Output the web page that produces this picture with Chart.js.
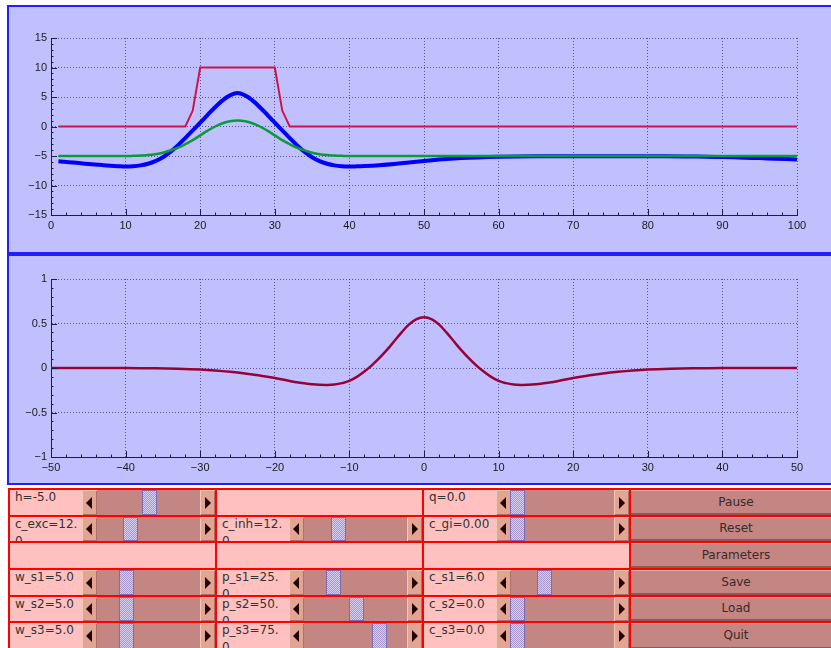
<!DOCTYPE html>
<html>
<head>
<meta charset="utf-8">
<script src="https://cdn.jsdelivr.net/npm/chart.js@4.4.1/dist/chart.umd.min.js"></script>
<style>
body{margin:0;width:831px;height:648px;overflow:hidden;position:relative;background:#fff;font-family:"DejaVu Sans",sans-serif}
.panel{position:absolute;left:7px;width:830px;background:#c0c0ff;border:2px solid #1f1fff;box-sizing:border-box}
#p1{top:5px;height:249px}
#p2{top:254px;height:231px}
canvas{position:absolute;left:0;z-index:2}
#c1{top:0}
#c2{top:253px}
#ctl{position:absolute;left:8px;top:488px;width:830px;height:162px;background:#ff0000}
.cell{position:absolute;background:#ffc0c0;overflow:hidden}
.lbl{position:absolute;left:5px;top:-1px;font-size:12px;line-height:17px;color:#333;white-space:nowrap}
.sl{position:absolute;top:0;bottom:0;width:133px;background:#c48682}
.arr{position:absolute;top:0;bottom:0;width:15px;background:#e2a493;box-shadow:inset 1px 1px 0 #f4c8b8,inset -1px -1px 0 #b07068}
.arr.l{left:0}
.arr.r{right:0}
.arr::after{content:"";position:absolute;top:50%;margin-top:-6px;border-top:6px solid transparent;border-bottom:6px solid transparent}
.arr.l::after{left:4px;border-right:6px solid #220000}
.arr.r::after{left:5px;border-left:6px solid #220000}
.th{position:absolute;top:0;bottom:0;width:13px;border:1px solid #7a6cb4;background:repeating-conic-gradient(#a898cc 0 25%,#d6cceb 0 50%) 0 0/2px 2px}
.btn{position:absolute;background:#c48682;color:#3a2a2a;font-size:12px;text-align:center;box-shadow:inset 0 1px 0 #e0b0a8,inset 0 -2px 0 #8a5a58}
</style>
</head>
<body>
<div class="panel" id="p1"></div>
<div class="panel" id="p2"></div>
<canvas id="c1" width="831" height="253"></canvas>
<canvas id="c2" width="831" height="232"></canvas>
<div id="ctl"></div>
<script>
// field u (blue), inhibitory field v (green), stimulus s (red)
const uX = [1,3,5,7,9,10,11,12,13,14,15,16,17,18,19,20,21,22,23,24,25,26,27,28,29,30,31,32,33,34,35,36,37,38,39,40,41,42,44,46,48,50,52,55,58,60,65,70,75,80,85,88,90,93,95,97,100];
const uVal = [-5.9,-6.1,-6.35,-6.55,-6.72,
  -6.78,-6.73,-6.59,-6.31,-5.86,-5.21,-4.31,-3.21,-1.96,-0.66,
  0.64,1.97,3.27,4.42,5.27,5.67,5.27,4.42,3.27,1.97,
  0.64,-0.66,-1.96,-3.21,-4.31,-5.21,-5.86,-6.31,-6.59,-6.73,
  -6.78,-6.75,-6.7,
  -6.55,-6.35,-6.1,-5.85,-5.6,-5.35,-5.2,-5.12,
  -5.06,-5.04,-5.04,-5.05,-5.08,-5.13,-5.18,-5.28,-5.36,-5.45,-5.6];

const vX = [1,10,11,12,13,14,15,16,17,18,19,20,21,22,23,24,25,26,27,28,29,30,31,32,33,34,35,36,37,38,39,40,100];
const vVal = [-5,
  -5,-4.97,-4.92,-4.85,-4.7,-4.45,-4.05,-3.6,-3.0,-2.3,
  -1.5,-0.7,0.0,0.55,0.9,1.0,0.9,0.55,0.0,-0.7,
  -1.5,-2.3,-3.0,-3.6,-4.05,-4.45,-4.7,-4.85,-4.92,-4.97,
  -5,-5];

const sX = [1,18,19,20,30,31,32,100];
const sVal = [0,0,2.7,10,10,2.7,0,0];

// interaction kernel
const kX = [-50,-45,-40,-36,-33,-30,-28,-26,-24,-22,-20,-18,-17,-16,-15,-14,-13,-12,-11,-10,-9,-8,-7,-6,-5,-4,-3,-2,-1,0,
  1,2,3,4,5,6,7,8,9,10,11,12,13,14,15,16,17,18,20,22,24,26,28,30,33,36,40,45,50];
const kVal = [0,0,-0.001,-0.003,-0.008,-0.017,-0.028,-0.043,-0.062,-0.085,-0.112,
  -0.147,-0.16,-0.172,-0.182,-0.188,-0.19,-0.185,-0.17,-0.145,-0.10,-0.04,0.03,0.11,0.20,0.30,0.40,0.49,0.55,0.57,
  0.55,0.49,0.40,0.30,0.20,0.11,0.03,-0.04,-0.10,-0.145,-0.17,-0.185,-0.19,-0.188,-0.182,-0.172,-0.16,-0.147,
  -0.112,-0.085,-0.062,-0.043,-0.028,-0.017,-0.008,-0.003,-0.001,0,0];

const fieldXTicks = [0,10,20,30,40,50,60,70,80,90,100];
const fieldYTicks = [-15,-10,-5,0,5,10,15];
const kernelXTicks = [-50,-40,-30,-20,-10,0,10,20,30,40,50];
const kernelYTicks = [-1,-0.5,0,0.5,1];

const pts = (xs, ys) => xs.map((x, i) => ({x: x, y: ys[i]}));
const minus = v => String(v).replace('-', '\u2212');

// matlab style ticks pointing into the axes, plus minor ticks
const insideTicks = {
  id: 'insideTicks',
  afterDatasetsDraw(chart, args, opts) {
    const {ctx, chartArea: a, scales: {x, y}} = chart;
    ctx.save();
    ctx.strokeStyle = '#1e1e3c';
    ctx.lineWidth = 1;
    ctx.beginPath();
    x.ticks.forEach(t => {
      const px = Math.round(x.getPixelForValue(t.value)) + 0.5;
      ctx.moveTo(px, a.bottom); ctx.lineTo(px, a.bottom - 6);
    });
    y.ticks.forEach(t => {
      const py = Math.round(y.getPixelForValue(t.value)) + 0.5;
      ctx.moveTo(a.left, py); ctx.lineTo(a.left + 6, py);
    });
    for (let v = x.min; v <= x.max + 1e-9; v += opts.xMinor) {
      const px = Math.round(x.getPixelForValue(v)) + 0.5;
      ctx.moveTo(px, a.bottom); ctx.lineTo(px, a.bottom - 2.5);
    }
    for (let v = y.min; v <= y.max + 1e-9; v += opts.yMinor) {
      const py = Math.round(y.getPixelForValue(v)) + 0.5;
      ctx.moveTo(a.left, py); ctx.lineTo(a.left + 2.5, py);
    }
    ctx.stroke();
    ctx.restore();
  }
};

function makeChart(id, datasets, xr, yr, xTicks, yTicks, padTop, xHeight, minor) {
  const tickFont = {family: '"Liberation Sans", Arial, sans-serif', size: 11};
  const grid = {color: 'rgba(45,45,95,0.7)', lineWidth: 1, drawTicks: false};
  const border = {display: true, color: '#1e1e3c', width: 1, dash: [1, 2]};
  return new Chart(document.getElementById(id), {
    type: 'line',
    data: {datasets: datasets},
    plugins: [insideTicks],
    options: {
      responsive: false,
      animation: false,
      layout: {padding: {left: 0, right: 34, top: padTop, bottom: 0}},
      elements: {point: {radius: 0}, line: {tension: 0.4}},
      scales: {
        x: {
          type: 'linear', min: xr[0], max: xr[1],
          afterBuildTicks: s => { s.ticks = xTicks.map(v => ({value: v})); },
          afterFit: s => { s.height = xHeight; },
          grid: grid, border: border,
          ticks: {padding: 4, color: '#1a1a1a', font: tickFont, maxRotation: 0, autoSkip: false, callback: minus}
        },
        y: {
          min: yr[0], max: yr[1],
          afterBuildTicks: s => { s.ticks = yTicks.map(v => ({value: v})); },
          afterFit: s => { s.width = 51; },
          grid: grid, border: border,
          ticks: {padding: 4, color: '#1a1a1a', font: tickFont, autoSkip: false, callback: minus}
        }
      },
      plugins: {
        legend: {display: false},
        tooltip: {enabled: false},
        insideTicks: minor
      }
    }
  });
}

makeChart('c1', [
  {data: pts(sX, sVal), borderColor: '#d0124a', borderWidth: 2, tension: 0},
  {data: pts(vX, vVal), borderColor: '#0a9a3c', borderWidth: 2.5},
  {data: pts(uX, uVal), borderColor: '#0000ff', borderWidth: 4}
], [0, 100], [-15, 15], fieldXTicks, fieldYTicks, 38, 38, {xMinor: 2, yMinor: 1});

makeChart('c2', [
  {data: pts(kX, kVal), borderColor: '#9a0038', borderWidth: 2.5}
], [-50, 50], [-1, 1], kernelXTicks, kernelYTicks, 26, 28, {xMinor: 2, yMinor: 0.1});

// control panel
const ctl = document.getElementById('ctl');
const rowTop = [2, 29, 55, 82, 109, 135];
const rowH = [25, 24, 25, 25, 24, 26];
const colLeft = [2, 209, 416];
const widgets = [
  [0, 0, 'h=-5.0', 60], [0, 1, null], [0, 2, 'q=0.0', 14],
  [1, 0, 'c_exc=12.<br>0', 41], [1, 1, 'c_inh=12.<br>0', 42], [1, 2, 'c_gi=0.00', 14],
  [2, 0, null], [2, 1, null], [2, 2, null],
  [3, 0, 'w_s1=5.0', 37], [3, 1, 'p_s1=25.<br>0', 37], [3, 2, 'c_s1=6.0', 41],
  [4, 0, 'w_s2=5.0', 37], [4, 1, 'p_s2=50.<br>0', 60], [4, 2, 'c_s2=0.0', 14],
  [5, 0, 'w_s3=5.0', 37], [5, 1, 'p_s3=75.<br>0', 83], [5, 2, 'c_s3=0.0', 14]
];
const buttons = ['Pause', 'Reset', 'Parameters', 'Save', 'Load', 'Quit'];

widgets.forEach(w => {
  const cell = document.createElement('div');
  cell.className = 'cell';
  cell.style.left = colLeft[w[1]] + 'px';
  cell.style.top = rowTop[w[0]] + 'px';
  cell.style.width = '205px';
  cell.style.height = rowH[w[0]] + 'px';
  if (w[2]) {
    cell.innerHTML = '<div class="lbl">' + w[2] + '</div>' +
      '<div class="sl" style="left:72px"><div class="arr l"></div>' +
      '<div class="th" style="left:' + w[3] + 'px"></div><div class="arr r"></div></div>';
  }
  ctl.appendChild(cell);
});

buttons.forEach((b, i) => {
  const btn = document.createElement('div');
  btn.className = 'btn';
  btn.style.left = '623px';
  btn.style.top = rowTop[i] + 'px';
  btn.style.width = '210px';
  btn.style.height = rowH[i] + 'px';
  btn.style.lineHeight = (rowH[i] - 1) + 'px';
  btn.textContent = b;
  ctl.appendChild(btn);
});
</script>
</body>
</html>
